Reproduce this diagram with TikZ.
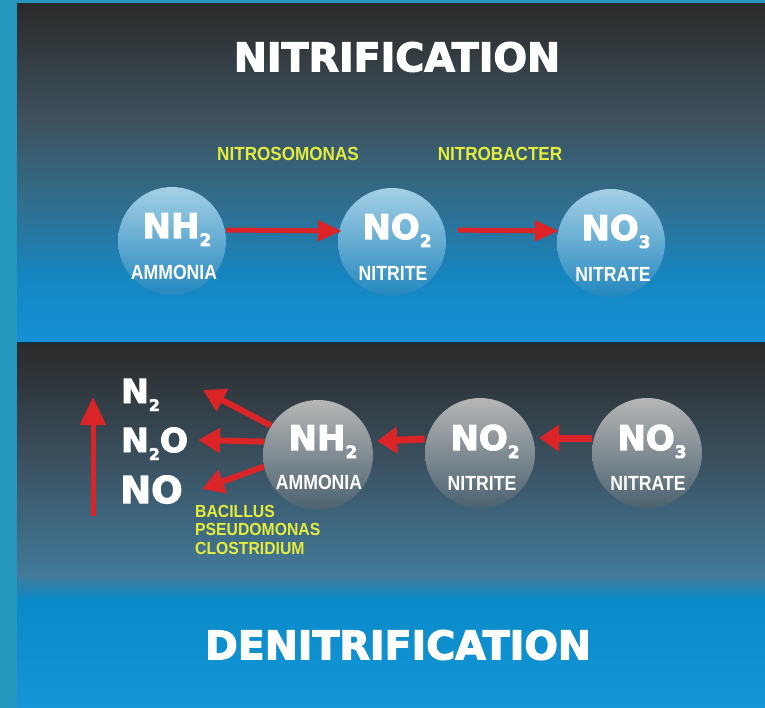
\documentclass[tikz,border=0pt]{standalone}
\usepackage{fontspec}
\newfontfamily\dvfam{DejaVu Sans}[BoldFeatures={FakeBold=3}]
\newfontfamily\lsfam{Liberation Sans}[FakeStretch=0.9]
\newfontfamily\lsnar{Liberation Sans}[FakeStretch=0.86]
\usetikzlibrary{arrows.meta}
\definecolor{outerc}{RGB}{37,150,190}
\definecolor{arrred}{RGB}{218,36,40}
\definecolor{ylw}{RGB}{228,236,60}
\definecolor{pa}{RGB}{42,42,42}
\definecolor{pb}{RGB}{62,82,94}
\definecolor{pc}{RGB}{48,112,146}
\definecolor{pd}{RGB}{21,133,192}
\definecolor{pe}{RGB}{19,146,214}
\definecolor{qa}{RGB}{42,42,42}
\definecolor{qb}{RGB}{58,80,95}
\definecolor{qc}{RGB}{66,122,154}
\definecolor{qd}{RGB}{10,138,200}
\definecolor{qe}{RGB}{20,150,216}
\definecolor{sepc}{RGB}{20,45,60}
\newcommand\chemsub[2]{\raisebox{#1}{\fontsize{#2}{#2}\selectfont 2}}
\newcommand\chemsubt[2]{\raisebox{#1}{\fontsize{#2}{#2}\selectfont 3}}
\begin{document}
\begin{tikzpicture}[x=1pt,y=-1pt,
  titletext/.style={text=white,font=\dvfam\bfseries\fontsize{39.5}{40}\selectfont,inner sep=0},
  formula/.style={text=white,font=\dvfam\bfseries\fontsize{34}{34}\selectfont,inner sep=0,anchor=base},
  leftchem/.style={text=white,font=\dvfam\bfseries\fontsize{33}{33}\selectfont,inner sep=0,anchor=base west},
  namelbl/.style={text=white,font=\lsnar\bfseries\fontsize{20.5}{20.5}\selectfont,inner sep=0,anchor=base},
  bact/.style={text=ylw,font=\lsfam\bfseries\fontsize{19}{19}\selectfont,inner sep=0},
  bactsm/.style={text=ylw,font=\lsfam\bfseries\fontsize{17.5}{18.5}\selectfont,inner sep=0},
  topcirc/.style={circle,minimum size=108pt,inner sep=0,top color={rgb,255:red,165;green,208;blue,230},bottom color={rgb,255:red,35;green,135;blue,190}},
  botcirc/.style={circle,minimum size=110pt,inner sep=0,top color={rgb,255:red,182;green,182;blue,182},bottom color={rgb,255:red,75;green,98;blue,112}},
  arrtop/.style={draw=arrred,line width=5pt,-{Triangle[length=24pt,width=20pt]}},
  arrbot/.style={draw=arrred,line width=7pt,-{Triangle[length=20pt,width=26pt]}},
  arrdiag/.style={draw=arrred,line width=6pt,-{Triangle[length=22pt,width=24pt]}},
  arrvert/.style={draw=arrred,line width=5pt,-{Triangle[length=28pt,width=25pt]}}
]
\useasboundingbox (0,0) rectangle (765,708);
\fill[outerc] (0,0) rectangle (765,708);
% top panel
\shade[top color=pa,bottom color=pb] (17,4) rectangle (765,120.5);
\shade[top color=pb,bottom color=pc] (17,120) rectangle (765,210.5);
\shade[top color=pc,bottom color=pd] (17,210) rectangle (765,275.5);
\shade[top color=pd,bottom color=pe] (17,275) rectangle (765,343);
% bottom panel
\shade[top color=qa,bottom color=qb] (17,343) rectangle (765,460.5);
\shade[top color=qb,bottom color=qc] (17,460) rectangle (765,575.5);
\shade[top color=qc,bottom color=qd] (17,575) rectangle (765,600.5);
\shade[top color=qd,bottom color=qe] (17,600) rectangle (765,708);
\draw[sepc,line width=2.5pt] (17,343) -- (765,343);

% ---- nitrification ----
\node[titletext] (t1) at (397,57) {NITRIFICATION};
\node[bact] (b1) at (288,154) {NITROSOMONAS};
\node[bact] (b2) at (500,154) {NITROBACTER};

\node[topcirc] (c1) at (172,241) {};
\node[topcirc] (c2) at (392,242) {};
\node[topcirc] (c3) at (611,243) {};

\node[formula] (f1) at (177,238) {NH\chemsub{-8pt}{17}};
\node[formula] (f2) at (397,239) {NO\chemsub{-8pt}{17}};
\node[formula] (f3) at (616,240) {NO\chemsubt{-8pt}{17}};
\node[namelbl] (l1) at (174,280) {AMMONIA};
\node[namelbl] (l2) at (393,281) {NITRITE};
\node[namelbl] (l3) at (613,282) {NITRATE};

\draw[arrtop] ([yshift=11pt]c1.east) -- ([yshift=11pt,xshift=4pt]c2.west);
\draw[arrtop,shorten <=12pt] ([yshift=12pt]c2.east) -- ([yshift=12pt,xshift=2pt]c3.west);

% ---- denitrification ----
\node[botcirc] (c4) at (318,455) {};
\node[botcirc] (c5) at (480,453) {};
\node[botcirc] (c6) at (647,453) {};

\node[formula] (f4) at (323,450) {NH\chemsub{-8pt}{17}};
\node[formula] (f5) at (485,450) {NO\chemsub{-8pt}{17}};
\node[formula] (f6) at (652,450) {NO\chemsubt{-8pt}{17}};
\node[namelbl] (l4) at (319,489) {AMMONIA};
\node[namelbl] (l5) at (482,490) {NITRITE};
\node[namelbl] (l6) at (648,490) {NITRATE};

\node[leftchem] (n2) at (121,403) {N\chemsub{-8pt}{16}};
\node[leftchem] (n2o) at (121,452) {N\chemsub{-8pt}{16}O};
\node[leftchem,font=\dvfam\bfseries\fontsize{37}{37}\selectfont] (no) at (120,503) {NO};

\node[bactsm,anchor=north west,align=left] (bac) at (195,505) {BACILLUS\\PSEUDOMONAS\\CLOSTRIDIUM};

\node[titletext] (t2) at (398,645) {DENITRIFICATION};

\draw[arrbot] ([yshift=15pt]c6.west) -- ([yshift=15pt,xshift=4pt]c5.east);
\draw[arrbot] ([yshift=14pt]c5.west) -- ([yshift=14pt,xshift=4pt]c4.east);

\coordinate (tipa) at (203,390);
\coordinate (tipb) at (198,440);
\coordinate (tipc) at (202,489);
\coordinate (vbot) at (93,516);
\coordinate (vtop) at (93,397);
\draw[arrdiag] (c4.148) -- (tipa);
\draw[arrdiag] (c4.166) -- (tipb);
\draw[arrdiag] (c4.192) -- (tipc);
\draw[arrvert] (vbot) -- (vtop);
\end{tikzpicture}
\end{document}
